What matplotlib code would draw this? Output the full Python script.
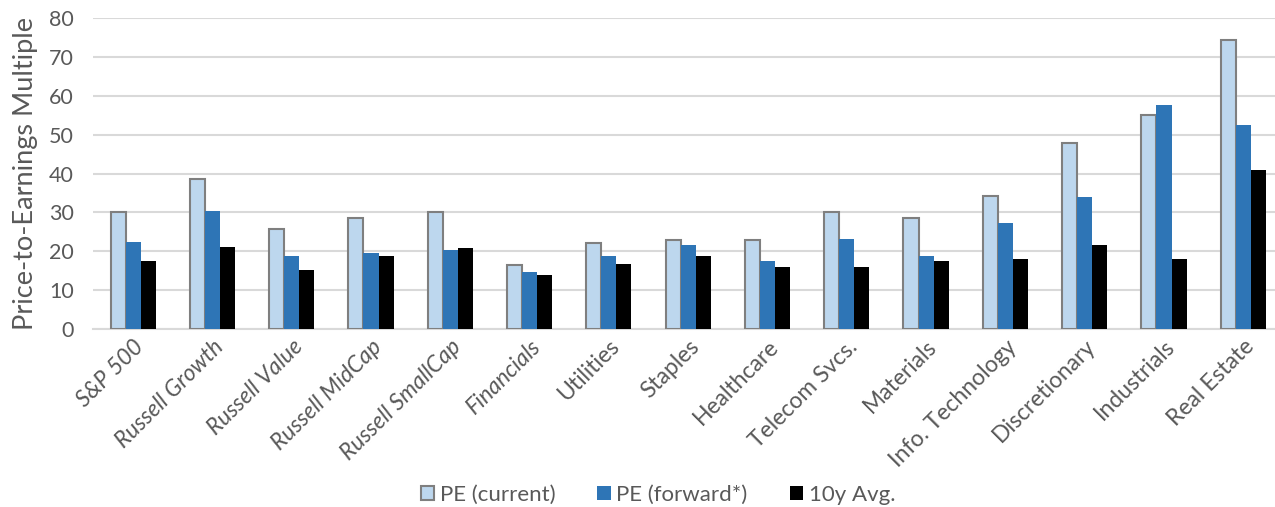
import matplotlib
matplotlib.use("Agg")
import matplotlib.pyplot as plt
import matplotlib.transforms as mtransforms
import numpy as np

plt.rcParams['font.family'] = ['Lato', 'DejaVu Sans']

categories = ["S&P 500", "Russell Growth", "Russell Value", "Russell MidCap",
              "Russell SmallCap", "Financials", "Utilities", "Staples",
              "Healthcare", "Telecom Svcs.", "Materials", "Info. Technology",
              "Discretionary", "Industrials", "Real Estate"]
italic_labels = ["S&P 500", "Russell Growth", "Russell Value", "Russell MidCap",
                 "Russell SmallCap", "Financials"]

pe_current = [30.0, 38.6, 25.7, 28.6, 30.0, 16.4, 22.1, 22.9, 22.9, 30.0,
              28.6, 34.3, 47.9, 55.1, 74.3]
pe_forward = [22.4, 30.3, 18.9, 19.6, 20.3, 14.6, 18.9, 21.7, 17.4, 23.2,
              18.9, 27.4, 33.9, 57.5, 52.4]
avg_10y = [17.4, 21.0, 15.3, 18.9, 20.9, 13.8, 16.7, 18.9, 16.0, 16.0,
           17.4, 18.1, 21.7, 18.1, 41.0]

series_names = ["PE (current)", "PE (forward*)", "10y Avg."]
yticks = [0, 10, 20, 30, 40, 50, 60, 70, 80]

text_color = "#595959"
grid_color = "#D9D9D9"

fig = plt.figure(figsize=(12.75, 5.07), dpi=100)
ax = fig.add_axes([0.0733, 0.351, 0.9267, 0.6135])

x = np.arange(len(categories))
w = 0.19
b1 = ax.bar(x - w, pe_current, w, color="#BDD7EE", edgecolor="#7F7F7F",
            linewidth=1.5, label=series_names[0], zorder=3)
b2 = ax.bar(x, pe_forward, w, color="#2E75B6", label=series_names[1], zorder=3)
b3 = ax.bar(x + w, avg_10y, w, color="#000000", label=series_names[2], zorder=3)

# the plot area runs past the right edge of the figure
ax.set_xlim(-0.5, len(categories) - 0.6)
ax.set_ylim(0, 80)
ax.set_yticks(yticks)
ax.yaxis.grid(True, color=grid_color, linewidth=1.5, zorder=0)
ax.set_axisbelow(True)
for s in ["top", "right", "left"]:
    ax.spines[s].set_visible(False)
ax.spines["bottom"].set_color(grid_color)
ax.spines["bottom"].set_linewidth(1.5)
ax.tick_params(axis="both", length=0, colors=text_color)
ax.tick_params(axis="y", labelsize=15.5, pad=14)

ax.set_xticks(x)
ax.set_xticklabels(categories, rotation=45, ha="right", va="top",
                   rotation_mode="anchor", fontsize=16.5, color=text_color)
shift = mtransforms.ScaledTranslation(0.08, 0, fig.dpi_scale_trans)
for lbl in ax.get_xticklabels():
    lbl.set_transform(lbl.get_transform() + shift)
    if lbl.get_text() in italic_labels:
        lbl.set_style("italic")
ax.tick_params(axis="x", pad=5)

ax.set_ylabel("Price-to-Earnings Multiple", fontsize=19.5, color=text_color,
              labelpad=8)

fig.legend(handles=[b1, b2, b3], labels=series_names, loc="lower center",
           bbox_to_anchor=(0.516, -0.036), ncol=3, frameon=False, fontsize=16,
           labelcolor=text_color, handlelength=0.6, handleheight=0.6,
           handletextpad=0.25, columnspacing=1.9)

fig.savefig("out.png", dpi=100)
